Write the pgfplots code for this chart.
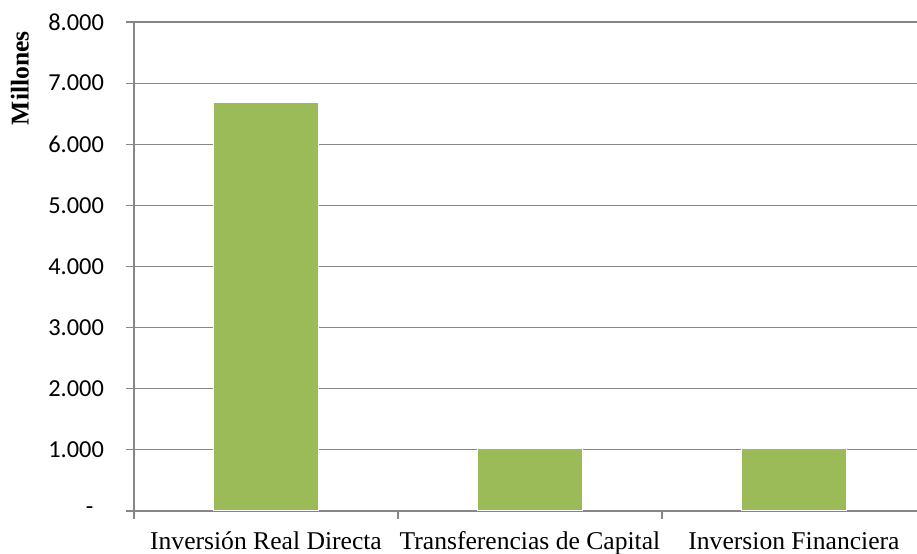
\documentclass[border=0pt]{standalone}
\usepackage{pgfplots}
\pgfplotsset{compat=1.18}
\usepackage{fontspec}
\setmainfont{Liberation Serif}
\newfontfamily\carlito{Carlito}
\definecolor{gridgray}{HTML}{868686}
\definecolor{bargreen}{HTML}{9BBB59}

\begin{document}
\begin{tikzpicture}
\begin{axis}[
    scale only axis,
    width=391.5pt,
    height=244.5pt,
    ybar,
    bar width=52.5pt,
    xmin=-0.5, xmax=2.466,
    ymin=0, ymax=8000,
    axis x line*=bottom,
    axis y line*=left,
    axis line style={gridgray, line width=0.6pt},
    xtick={0,1,2},
    xticklabels={Inversión Real Directa, Transferencias de Capital, Inversion Financiera},
    minor xtick={-0.5,0.5,1.5},
    major x tick style={draw=none},
    minor x tick style={gridgray, line width=0.6pt},
    ytick={0,1000,...,8000},
    yticklabels={\makebox[9pt][l]{-}, 1.000, 2.000, 3.000, 4.000, 5.000, 6.000, 7.000, 8.000},
    y tick style={gridgray, line width=0.6pt},
    tick align=outside,
    major tick length=4pt,
    minor tick length=4pt,
    ymajorgrids,
    major grid style={gridgray, line width=0.6pt},
    yticklabel style={font=\carlito\fontsize{12.2}{14}\selectfont, xshift=-7.5pt},
    xticklabel style={font=\fontsize{12.8}{15}\selectfont, text height=9pt, text depth=3pt, yshift=-2.5pt},
    ylabel={\textbf{Millones}},
    ylabel style={font=\fontsize{12.8}{15}\selectfont, at={(axis description cs:-0.1456,0.885)}, anchor=center, rotate=0},
]
\addplot[fill=bargreen, draw=white, line width=0.6pt] coordinates {
    (0, 6690)
    (1, 1030)
    (2, 1025)
};
\end{axis}
\pgfresetboundingbox
\path ([shift={(-67pt,-21.5pt)}]current axis.south west) rectangle ([shift={(0pt,11pt)}]current axis.north east);
\end{tikzpicture}
\end{document}
